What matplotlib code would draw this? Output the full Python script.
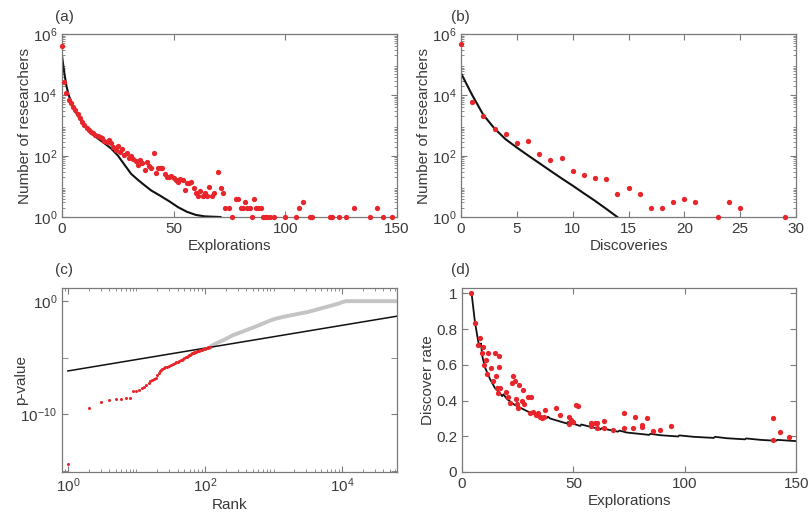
import numpy as np
import matplotlib.pyplot as plt
from matplotlib.ticker import LogLocator, NullFormatter, FixedLocator

plt.rcParams['font.family'] = ['Liberation Sans', 'DejaVu Sans']
plt.rcParams['mathtext.default'] = 'regular'
plt.rcParams['font.size'] = 11

# (a) researchers vs number of explorations
explorations_a = [0, 1, 2, 3, 4, 5, 6, 7, 8, 9, 10, 11, 12, 13, 14, 15, 16, 17, 18, 19,
                  20, 21, 22, 23, 24, 25, 26, 27, 28, 29, 30, 31, 32, 33, 34, 35, 36, 37, 38, 39,
                  40, 41, 42, 43, 44, 45, 46, 47, 48, 49, 50, 51, 52, 53, 54, 55, 56, 57, 58, 59,
                  60, 61, 62, 63, 64, 65, 66, 67, 68, 70, 71, 72, 73, 75, 76, 78, 79, 80, 81, 82,
                  83, 84, 85, 86, 87, 88, 89, 90, 91, 92, 93, 95, 100, 105, 106, 108, 111, 112,
                  120, 121, 124, 127, 131, 138, 141, 144, 148]
researchers_a = [420000, 27000, 12000, 6900, 5600, 4200, 3200, 2400, 1800, 1300, 1050, 850, 720,
                 630, 560, 500, 440, 420, 380, 320, 300, 330, 260, 200, 160, 210, 140, 165, 107,
                 125, 85, 100, 80, 71, 50, 76, 60, 35, 66, 48, 40, 125, 28, 40, 40, 40, 25, 21,
                 20, 22, 19, 16, 14, 18, 16, 8, 13, 13, 14, 9, 6, 5, 7, 5, 6, 5, 10, 5, 6, 31, 9,
                 6, 2, 2, 1, 4, 4, 2, 2, 3, 2, 2, 1, 4, 2, 2, 2, 1, 1, 1, 1, 1, 1, 1, 2, 3, 1, 1,
                 1, 1, 1, 1, 2, 1, 2, 1, 1]
model_x_a = [0, 1, 2, 3, 5, 7, 10, 13, 16, 19, 22, 25, 28, 31, 34, 37, 40, 44, 48, 52, 56, 60, 64, 71]
model_y_a = [2e5, 5.6e4, 2e4, 1e4, 4000, 2150, 1000, 560, 380, 263, 178, 105, 52, 26, 16.6,
             11, 7.4, 5, 3.3, 2.1, 1.48, 1.17, 1.05, 1.0]

# (b) researchers vs number of discoveries
discoveries_b = [0, 1, 2, 3, 4, 5, 6, 7, 8, 9, 10, 11, 12, 13, 14, 15, 16, 17, 18, 19, 20, 21,
                 23, 24, 25, 29]
researchers_b = [460000, 5800, 2000, 770, 530, 275, 310, 117, 74, 88, 33, 24, 19.5, 17.6, 5.5,
                 9, 5.5, 2, 2, 3, 4, 3, 1, 3, 2, 1]
model_x_b = [0, 1, 2, 3, 4, 5, 6, 7, 8, 9, 10, 11, 12, 13, 14]
model_y_b = [52000, 10000, 2240, 800, 355, 190, 105, 59, 33, 18.6, 10.7, 6.0, 3.4, 1.86, 1.0]

# (c) sorted p-values by rank
rank_sig = [1, 2, 3, 4, 5, 6, 7, 8, 9, 10, 11, 12, 13, 14, 15, 16, 17, 18, 19, 20, 21, 22,
            23, 24, 25, 26, 28, 30, 32, 34, 36, 38, 40, 42, 44, 46, 48, 50, 52, 54, 56, 58,
            60, 62, 64, 66, 68, 70, 73, 76, 79, 82, 85, 88, 91, 94, 97, 100, 103, 106, 109,
            112, 115, 118]
logp_sig = [-14.35, -9.42, -8.9, -8.78, -8.68, -8.62, -8.58, -8.52, -7.98, -7.92, -7.82, -7.7,
            -7.55, -7.4, -7.2, -7.1, -7.0, -6.9, -6.75, -6.55, -6.35, -6.2, -6.1, -6.0, -5.95,
            -5.85, -5.8, -5.75, -5.62, -5.55, -5.5, -5.4, -5.35, -5.28, -5.22, -5.2, -5.15,
            -5.05, -4.95, -4.9, -4.85, -4.8, -4.72, -4.68, -4.62, -4.58, -4.55, -4.5, -4.45,
            -4.42, -4.4, -4.38, -4.35, -4.33, -4.3, -4.27, -4.23, -4.2, -4.17, -4.13, -4.1,
            -4.08, -4.05, -4.03]
rank_rest = [118, 150, 200, 258, 350, 460, 630, 800, 1000, 1380, 1800, 2450, 3200, 4300, 5600,
             7400, 9000, 10500, 11500, 63000]
logp_rest = [-4.03, -3.7, -3.35, -3.0, -2.7, -2.42, -2.1, -1.83, -1.6, -1.39, -1.25, -1.09,
             -0.95, -0.74, -0.55, -0.35, -0.2, -0.05, 0.0, 0.0]
bh_rank = [1, 63000]
bh_logp = [-6.17, -1.33]

# (d) discover rate vs explorations
explorations_d = [4, 6, 7, 8, 9, 9.5, 10, 10.8, 11.3, 11.8, 12.9, 13.8, 14.8, 15.3, 15.6, 16.8,
                  16.8, 16.3, 17, 19.8, 20.8, 21.6, 23.1, 23.8, 22.5, 24.3, 24.6, 25.8, 25.3,
                  27.6, 27, 28, 29.8, 30.8, 30.5, 32, 33.1, 34.1, 35, 36.1, 37.1, 37, 42.1, 44,
                  48.1, 48.8, 49.6, 48.1, 51.1, 52.2, 57.9, 57.9, 59.6, 60.8, 60.8, 63.8, 63.8,
                  67.7, 72.7, 72.7, 76.9, 77.8, 80.7, 80.7, 82.9, 85.9, 88.9, 93.7, 139.5, 139.5,
                  142.8, 146.8]
rate_d = [1.0, 0.833, 0.714, 0.75, 0.667, 0.70, 0.6, 0.63, 0.55, 0.667, 0.58, 0.51, 0.667,
          0.54, 0.47, 0.65, 0.59, 0.44, 0.47, 0.45, 0.42, 0.386, 0.54, 0.51, 0.5, 0.41, 0.38,
          0.49, 0.36, 0.46, 0.40, 0.38, 0.42, 0.42, 0.33, 0.337, 0.32, 0.33, 0.31, 0.30, 0.35,
          0.31, 0.356, 0.32, 0.31, 0.29, 0.28, 0.27, 0.375, 0.37, 0.272, 0.258, 0.272, 0.277,
          0.249, 0.283, 0.249, 0.234, 0.328, 0.245, 0.245, 0.309, 0.264, 0.25, 0.30, 0.23,
          0.234, 0.255, 0.30, 0.178, 0.225, 0.198]
model_x_d = [4.3, 5.8, 7.3, 8.0, 8.5, 9.1, 10.3, 12.6, 14.8, 17.1, 18.0, 18.6, 20.1, 23.1,
             26.8, 30.5, 35, 38, 38.6, 39.5, 44, 47, 47.6, 53, 53.6, 59, 62, 62.6, 70, 70.6,
             74, 84, 84.6, 89, 97, 97.6, 104, 113, 113.6, 119, 127, 127.6, 134, 141, 141.6, 150]
model_y_d = [1.0, 0.84, 0.73, 0.705, 0.72, 0.65, 0.586, 0.52, 0.47, 0.44, 0.425, 0.435, 0.41,
             0.38, 0.356, 0.333, 0.315, 0.302, 0.31, 0.30, 0.283, 0.272, 0.28, 0.258, 0.266,
             0.249, 0.238, 0.245, 0.226, 0.232, 0.221, 0.208, 0.214, 0.206, 0.199, 0.205, 0.197,
             0.191, 0.197, 0.189, 0.183, 0.188, 0.18, 0.175, 0.18, 0.173]

RED = '#e8252b'
SPINE = '#7a7a7a'
TEXT = '#3a3a3a'

fig = plt.figure(figsize=(8.09, 5.15), dpi=100)
ax_a = fig.add_axes([0.0766, 0.5786, 0.414, 0.355])
ax_b = fig.add_axes([0.5699, 0.5786, 0.414, 0.355])
ax_c = fig.add_axes([0.0766, 0.0835, 0.414, 0.357])
ax_d = fig.add_axes([0.5711, 0.0835, 0.413, 0.357])


def style(ax):
    for sp in ax.spines.values():
        sp.set_color(SPINE)
        sp.set_linewidth(0.9)
    ax.tick_params(which='both', direction='in', top=True, right=True,
                   color=SPINE, labelcolor=TEXT, labelsize=11)
    ax.tick_params(which='major', length=4)
    ax.tick_params(which='minor', length=2)


# (a)
ax_a.plot(model_x_a, model_y_a, color='#111111', lw=1.5, zorder=2)
ax_a.plot(explorations_a, researchers_a, 'o', color=RED, ms=3.8, mew=0,
          clip_on=False, zorder=3)
ax_a.set_yscale('log')
ax_a.set_xlim(0, 150)
ax_a.set_ylim(1, 1e6)
ax_a.set_xticks([0, 50, 100, 150])
ax_a.set_yticks([1, 1e2, 1e4, 1e6])
ax_a.yaxis.set_minor_locator(LogLocator(base=10, subs=np.arange(2, 10), numticks=20))
ax_a.yaxis.set_minor_formatter(NullFormatter())
ax_a.set_xlabel('Explorations', color=TEXT, labelpad=2)
ax_a.set_ylabel('Number of researchers', color=TEXT)
ax_a.yaxis.set_label_coords(-0.09, 0.5)
style(ax_a)

# (b)
ax_b.plot(model_x_b, model_y_b, color='#111111', lw=1.5, zorder=2)
ax_b.plot(discoveries_b, researchers_b, 'o', color=RED, ms=3.8, mew=0,
          clip_on=False, zorder=3)
ax_b.set_yscale('log')
ax_b.set_xlim(0, 30)
ax_b.set_ylim(1, 1e6)
ax_b.set_xticks([0, 5, 10, 15, 20, 25, 30])
ax_b.set_yticks([1, 1e2, 1e4, 1e6])
ax_b.yaxis.set_minor_locator(LogLocator(base=10, subs=np.arange(2, 10), numticks=20))
ax_b.yaxis.set_minor_formatter(NullFormatter())
ax_b.set_xlabel('Discoveries', color=TEXT, labelpad=2)
ax_b.set_ylabel('Number of researchers', color=TEXT)
ax_b.yaxis.set_label_coords(-0.09, 0.5)
style(ax_b)

# (c)
ax_c.plot(rank_rest, 10.0 ** np.array(logp_rest), color='#c4c4c4', lw=2.8,
          solid_capstyle='butt', zorder=2)
ax_c.plot(bh_rank, 10.0 ** np.array(bh_logp), color='#111111', lw=1.1, zorder=3)
ax_c.plot(rank_sig, 10.0 ** np.array(logp_sig), 'o', color=RED, ms=2.2, mew=0,
          clip_on=False, zorder=4)
ax_c.set_xscale('log')
ax_c.set_yscale('log')
ax_c.set_xlim(0.82, 6.3e4)
ax_c.set_ylim(10 ** -15.1, 10 ** 1.15)
ax_c.set_xticks([1, 1e2, 1e4])
ax_c.xaxis.set_minor_locator(LogLocator(base=10, subs=np.arange(1, 10), numticks=20))
ax_c.xaxis.set_minor_formatter(NullFormatter())
ax_c.set_yticks([1e-10, 1])
ax_c.yaxis.set_minor_locator(FixedLocator([1e-15, 1e-5]))
ax_c.yaxis.set_minor_formatter(NullFormatter())
ax_c.set_xlabel('Rank', color=TEXT, labelpad=2)
ax_c.set_ylabel('p-value', color=TEXT)
ax_c.yaxis.set_label_coords(-0.1, 0.5)
style(ax_c)
ax_c.tick_params(axis='y', which='minor', length=4)

# (d)
ax_d.plot(model_x_d, model_y_d, color='#111111', lw=1.3, zorder=2)
ax_d.plot(explorations_d, rate_d, 'o', color=RED, ms=3.8, mew=0,
          clip_on=False, zorder=3)
ax_d.set_xlim(0, 150)
ax_d.set_ylim(0, 1.03)
ax_d.set_xticks([0, 50, 100, 150])
ax_d.set_yticks([0, 0.2, 0.4, 0.6, 0.8, 1])
ax_d.set_yticklabels(['0', '0.2', '0.4', '0.6', '0.8', '1'])
ax_d.set_xlabel('Explorations', color=TEXT, labelpad=2)
ax_d.set_ylabel('Discover rate', color=TEXT)
ax_d.yaxis.set_label_coords(-0.08, 0.5)
style(ax_d)

# panel letters
for x, y, s in [(0.068, 0.967, '(a)'), (0.558, 0.967, '(b)'),
                (0.068, 0.476, '(c)'), (0.558, 0.476, '(d)')]:
    fig.text(x, y, s, fontsize=11, color=TEXT, ha='left', va='center')

fig.savefig('out.png', dpi=100)
